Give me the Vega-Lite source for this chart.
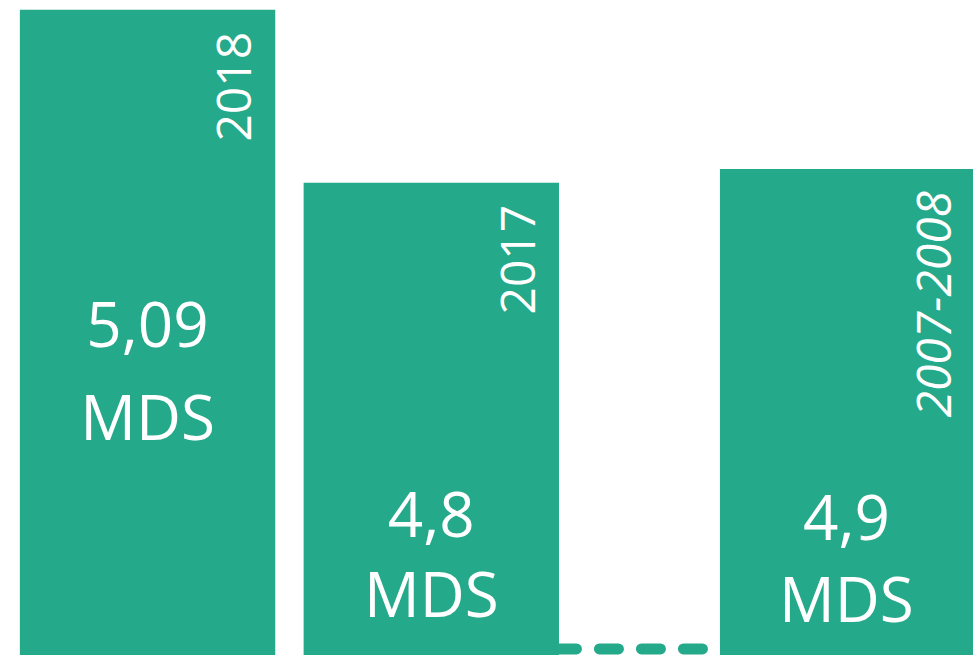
{
  "$schema": "https://vega.github.io/schema/vega-lite/v6.json",
  "padding": 0,
  "spacing": 0,
  "bounds": "flush",
  "background": "white",
  "config": {"view": {"stroke": null}},
  "datasets": {
    "bars": [
      {"period": "2018", "index": 98.5, "label": "5,09 MDS"},
      {"period": "2017", "index": 72.1, "label": "4,8 MDS"},
      {"period": "2007-2008", "index": 74.2, "label": "4,9 MDS"}
    ]
  },
  "hconcat": [
    {
      "width": 559,
      "height": 655,
      "data": {"name": "bars"},
      "transform": [{"filter": "datum.period != '2007-2008'"}],
      "encoding": {
        "x": {"field": "period", "type": "nominal", "axis": null,
              "scale": {"domain": ["2018", "2017"], "paddingInner": 0.1, "paddingOuter": 0.035, "align": 1}}
      },
      "layer": [
        {
          "mark": {"type": "bar", "color": "#24A98A"},
          "encoding": {"y": {"field": "index", "type": "quantitative", "axis": null, "scale": {"domain": [0, 100], "nice": false}}}
        },
        {
          "mark": {"type": "text", "angle": 270, "align": "right", "baseline": "alphabetic", "dx": -22, "dy": -24, "fontSize": 48, "font": "Open Sans", "color": "white"},
          "encoding": {
            "x": {"field": "period", "type": "nominal", "bandPosition": 1},
            "y": {"field": "index", "type": "quantitative"},
            "text": {"field": "period"}
          }
        },
        {
          "transform": [{"filter": "datum.period == '2018'"}],
          "mark": {"type": "text", "lineBreak": " ", "lineHeight": 93, "fontSize": 62, "baseline": "alphabetic", "align": "center", "font": "Open Sans", "color": "white"},
          "encoding": {"y": {"datum": 47}, "text": {"field": "label"}}
        },
        {
          "transform": [{"filter": "datum.period == '2017'"}],
          "mark": {"type": "text", "lineBreak": " ", "lineHeight": 80, "fontSize": 62, "baseline": "alphabetic", "align": "center", "font": "Open Sans", "color": "white"},
          "encoding": {"y": {"datum": 18}, "text": {"field": "label"}}
        }
      ]
    },
    {
      "width": 414,
      "height": 655,
      "data": {"name": "bars"},
      "transform": [{"filter": "datum.period == '2007-2008'"}],
      "encoding": {
        "x": {"field": "period", "type": "nominal", "axis": null,
              "scale": {"domain": ["2007-2008"], "paddingInner": 0, "paddingOuter": 0.318, "align": 1}}
      },
      "layer": [
        {
          "mark": {"type": "bar", "color": "#24A98A"},
          "encoding": {"y": {"field": "index", "type": "quantitative", "axis": null, "scale": {"domain": [0, 100], "nice": false}}}
        },
        {
          "mark": {"type": "rule", "color": "#24A98A", "strokeWidth": 11, "strokeCap": "round", "strokeDash": [19, 23], "strokeDashOffset": 24.5},
          "encoding": {
            "x": {"datum": "2007-2008", "bandPosition": 0},
            "x2": {"value": 0},
            "y": {"datum": 0.92}
          }
        },
        {
          "mark": {"type": "text", "angle": 270, "align": "right", "baseline": "alphabetic", "dx": -22, "dy": -22, "fontSize": 48, "fontStyle": "italic", "font": "Open Sans", "color": "white"},
          "encoding": {
            "x": {"field": "period", "type": "nominal", "bandPosition": 1},
            "y": {"field": "index", "type": "quantitative"},
            "text": {"field": "period"}
          }
        },
        {
          "mark": {"type": "text", "lineBreak": " ", "lineHeight": 82, "fontSize": 62, "baseline": "alphabetic", "align": "center", "font": "Open Sans", "color": "white"},
          "encoding": {"y": {"datum": 17.6}, "text": {"field": "label"}}
        }
      ]
    }
  ]
}
